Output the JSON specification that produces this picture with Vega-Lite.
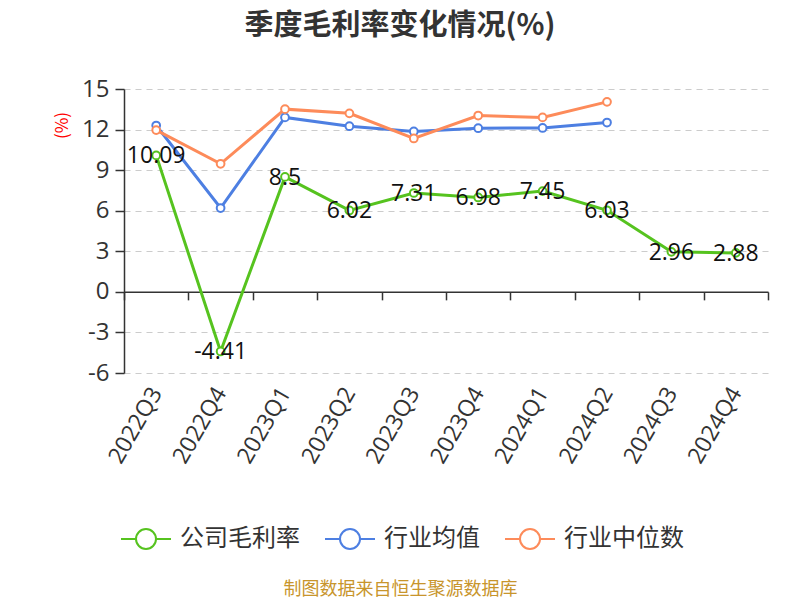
{
  "$schema": "https://vega.github.io/schema/vega-lite/v6.json",
  "width": 644,
  "height": 284,
  "autosize": {"type": "none"},
  "padding": {"left": 124, "top": 89, "right": 32, "bottom": 227},
  "background": "white",
  "config": {
    "locale": {"number": {"decimal": ".", "thousands": ",", "grouping": [3], "currency": ["", ""], "minus": "-"}},
    "view": {"stroke": null}
  },
  "title": {
    "text": "季度毛利率变化情况(%)",
    "anchor": "middle",
    "dx": -46,
    "offset": 36,
    "font": "Noto Sans CJK SC",
    "fontSize": 29,
    "fontWeight": "bold",
    "color": "#333333"
  },
  "data": {
    "values": [
      {"q": "2022Q3", "s": "公司毛利率", "v": 10.09},
      {"q": "2022Q4", "s": "公司毛利率", "v": -4.41},
      {"q": "2023Q1", "s": "公司毛利率", "v": 8.5},
      {"q": "2023Q2", "s": "公司毛利率", "v": 6.02},
      {"q": "2023Q3", "s": "公司毛利率", "v": 7.31},
      {"q": "2023Q4", "s": "公司毛利率", "v": 6.98},
      {"q": "2024Q1", "s": "公司毛利率", "v": 7.45},
      {"q": "2024Q2", "s": "公司毛利率", "v": 6.03},
      {"q": "2024Q3", "s": "公司毛利率", "v": 2.96},
      {"q": "2024Q4", "s": "公司毛利率", "v": 2.88},
      {"q": "2022Q3", "s": "行业均值", "v": 12.3},
      {"q": "2022Q4", "s": "行业均值", "v": 6.2},
      {"q": "2023Q1", "s": "行业均值", "v": 12.9},
      {"q": "2023Q2", "s": "行业均值", "v": 12.25},
      {"q": "2023Q3", "s": "行业均值", "v": 11.86},
      {"q": "2023Q4", "s": "行业均值", "v": 12.1},
      {"q": "2024Q1", "s": "行业均值", "v": 12.12},
      {"q": "2024Q2", "s": "行业均值", "v": 12.52},
      {"q": "2022Q3", "s": "行业中位数", "v": 11.96},
      {"q": "2022Q4", "s": "行业中位数", "v": 9.47},
      {"q": "2023Q1", "s": "行业中位数", "v": 13.51},
      {"q": "2023Q2", "s": "行业中位数", "v": 13.2},
      {"q": "2023Q3", "s": "行业中位数", "v": 11.34},
      {"q": "2023Q4", "s": "行业中位数", "v": 13.04},
      {"q": "2024Q1", "s": "行业中位数", "v": 12.9},
      {"q": "2024Q2", "s": "行业中位数", "v": 14.05}
    ]
  },
  "encoding": {
    "x": {
      "field": "q",
      "type": "nominal",
      "sort": null,
      "scale": {"type": "band", "paddingInner": 0, "paddingOuter": 0},
      "axis": {
        "offset": -81.14,
        "tickBand": "extent",
        "domainColor": "#333333",
        "domainWidth": 1.5,
        "tickColor": "#333333",
        "tickWidth": 1.5,
        "tickSize": 8,
        "grid": false,
        "labelAngle": -60,
        "labelAlign": "right",
        "labelBaseline": "middle",
        "labelPadding": 89,
        "labelFont": "Open Sans",
        "labelFontSize": 23,
        "labelColor": "#333333",
        "title": "制图数据来自恒生聚源数据库",
        "titleFont": "Noto Sans CJK SC",
        "titleFontSize": 18,
        "titleFontWeight": "normal",
        "titleColor": "#c8952c",
        "titleX": 276,
        "titleY": 298,
        "titleAlign": "center",
        "titleBaseline": "middle",
        "titleAnchor": null
      }
    },
    "y": {
      "field": "v",
      "type": "quantitative",
      "scale": {"domain": [-6, 15], "nice": false, "zero": false},
      "axis": {
        "values": [-6, -3, 0, 3, 6, 9, 12, 15],
        "domainColor": "#333333",
        "domainWidth": 1.5,
        "tickColor": "#333333",
        "tickWidth": 1.5,
        "tickSize": 9,
        "labelPadding": 6,
        "labelFont": "Open Sans",
        "labelFontSize": 24,
        "labelColor": "#333333",
        "grid": true,
        "gridColor": "#cccccc",
        "gridDash": [6, 5],
        "gridWidth": 1.2,
        "title": "(%)",
        "titleFont": "Noto Sans CJK SC",
        "titleFontSize": 17,
        "titleFontWeight": "normal",
        "titleColor": "#ff0000",
        "titleX": -62,
        "titleY": 36,
        "titleAlign": "center",
        "titleBaseline": "middle",
        "titleAngle": -90
      }
    },
    "color": {
      "field": "s",
      "type": "nominal",
      "sort": null,
      "scale": {"domain": ["公司毛利率", "行业均值", "行业中位数"], "range": ["#56c31f", "#4d7fe2", "#fd8b5a"]},
      "legend": {
        "title": null,
        "orient": "none",
        "direction": "horizontal",
        "legendX": -4,
        "legendY": 424,
        "symbolType": "M-1,0L-0.4,0M0.4,0L1,0M0.4,0A0.4,0.4,0,1,1,-0.4,0A0.4,0.4,0,1,1,0.4,0",
        "symbolSize": 2500,
        "symbolStrokeWidth": 2,
        "symbolFillColor": "white",
        "labelFont": "Noto Sans CJK SC",
        "labelFontSize": 24,
        "labelColor": "#333333",
        "labelOffset": 8,
        "columnPadding": 21
      }
    }
  },
  "layer": [
    {"mark": {"type": "line", "strokeWidth": 3}},
    {"mark": {"type": "point", "filled": false, "fill": "white", "fillOpacity": 1, "opacity": 1, "size": 60, "strokeWidth": 2}},
    {
      "transform": [{"filter": "datum.s === '公司毛利率'"}],
      "mark": {"type": "text", "font": "Open Sans", "fontSize": 23, "align": "center", "baseline": "middle", "dy": 1, "color": "#111111"},
      "encoding": {"text": {"field": "v", "type": "quantitative"}, "color": {"value": "#111111"}}
    }
  ]
}
